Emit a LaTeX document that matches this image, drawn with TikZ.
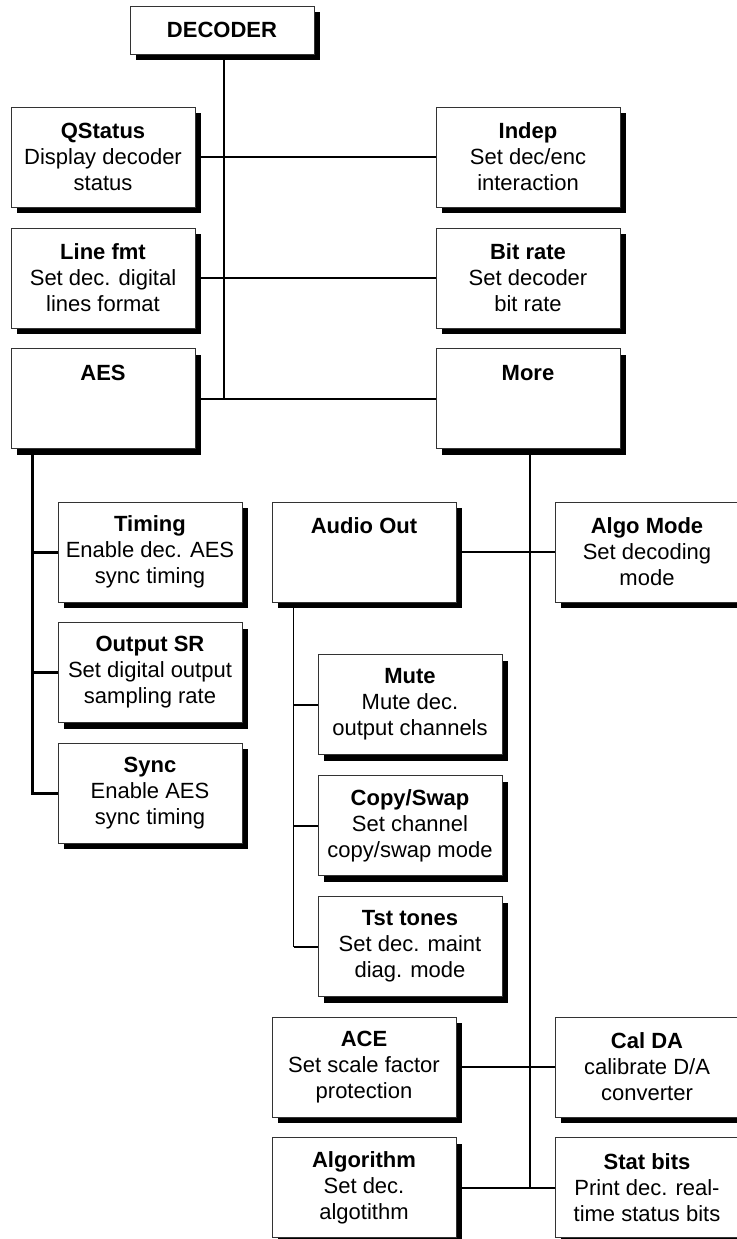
\documentclass[tikz,border=0pt]{standalone}
\usepackage{fontspec}
\setmainfont{Liberation Sans}
\usepackage{tikz}
\usetikzlibrary{shadows, backgrounds}

\tikzset{
    menu/.style={draw=black!80, line width=0.8pt, fill=white, align=center,
        minimum width=184pt, minimum height=100pt, inner sep=0pt,
        drop shadow={shadow xshift=6pt, shadow yshift=-6pt, fill=black, opacity=1}},
    link/.style={line width=2pt},
    trunk/.style={line width=1.5pt}
}

\begin{document}
\begin{tikzpicture}[x=1pt, y=-1pt, font=\fontsize{22}{26}\selectfont]
            \useasboundingbox (0, 0) rectangle (736, 1239);

            \node[menu, minimum height=48pt] at (222, 30) (decoder) {\textbf{DECODER}};

            \node[menu] at (103, 157)    (qstatus)  {\textbf{QStatus}\\Display decoder\\status};
            \node[menu] at (528, 157)    (indep)    {\textbf{Indep}\\Set dec/enc\\interaction};
            \node[menu] at (103, 278)    (linefmt)  {\textbf{Line fmt}\\Set dec. digital\\lines format};
            \node[menu] at (528, 278)    (bitrate)  {\textbf{Bit rate}\\Set decoder\\bit rate};
            \node[menu] at (103, 398.5)  (aes)      {\textbf{AES}\\~\\~};
            \node[menu] at (528, 398.5)  (more)     {\textbf{More}\\~\\~};

            \node[menu] at (150, 552)    (timing)   {\textbf{Timing}\\Enable dec. AES\\sync timing};
            \node[menu] at (150, 672.5)  (outsr)    {\textbf{Output SR}\\Set digital output\\sampling rate};
            \node[menu] at (150, 793)    (sync)     {\textbf{Sync}\\Enable AES\\sync timing};

            \node[menu] at (364, 552)    (audioout) {\textbf{Audio Out}\\~\\~};
            \node[menu] at (647, 552)    (algomode) {\textbf{Algo Mode}\\Set decoding\\mode};
            \node[menu] at (410, 704.5)  (mute)     {\textbf{Mute}\\Mute dec.\\output channels};
            \node[menu] at (410, 825.5)  (copyswap) {\textbf{Copy/Swap}\\Set channel\\copy/swap mode};
            \node[menu] at (410, 946.5)  (tsttones) {\textbf{Tst tones}\\Set dec. maint\\diag. mode};

            \node[menu] at (364, 1067)   (ace)      {\textbf{ACE}\\Set scale factor\\protection};
            \node[menu] at (647, 1067)   (calda)    {\textbf{Cal DA}\\calibrate D/A\\converter};
            \node[menu] at (364, 1187.5) (algo)     {\textbf{Algorithm}\\Set dec.\\algotithm};
            \node[menu] at (647, 1187.5) (statbits) {\textbf{Stat bits}\\Print dec. real-\\time status bits};

            \coordinate (aesbus) at ([xshift=22pt]aes.south west);
            \coordinate (audiobus) at ([xshift=22pt]audioout.south west);
            \coordinate (morebus) at ([xshift=2pt]more.south);
            \coordinate (mainbus) at ([xshift=2pt]decoder.south);

            \begin{scope}[on background layer]
                \draw [trunk] (mainbus) -- (mainbus |- aes.east);
                \draw [link] (qstatus) -- (indep);
                \draw [link] (linefmt) -- (bitrate);
                \draw [link] (aes) -- (more);

                \draw [line width=3pt] (aesbus) |- (sync.west);
                \draw [line width=3pt] (aesbus |- timing.west) -- (timing.west);
                \draw [line width=3pt] (aesbus |- outsr.west) -- (outsr.west);

                \draw [trunk] (morebus) -- (morebus |- statbits.west);
                \draw [link] (audioout) -- (algomode);
                \draw [link] (ace) -- (calda);
                \draw [link] (algo) -- (statbits);

                \draw [trunk] (audiobus) |- (tsttones.west);
                \draw [link] (audiobus |- mute.west) -- (mute.west);
                \draw [link] (audiobus |- copyswap.west) -- (copyswap.west);
                \draw [link] (audiobus |- tsttones.west) -- (tsttones.west);
            \end{scope}
        \end{tikzpicture}
\end{document}
